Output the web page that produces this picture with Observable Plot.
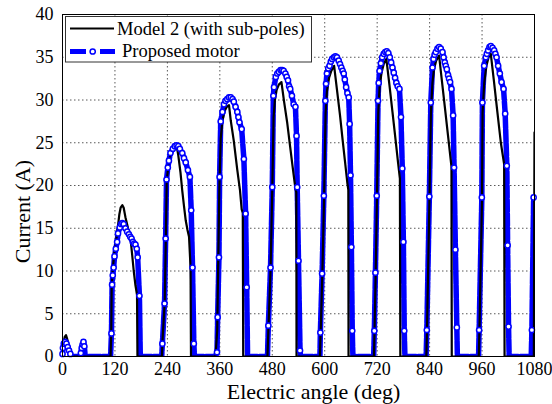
<!DOCTYPE html>
<html><head><meta charset="utf-8">
<script src="https://cdn.jsdelivr.net/npm/d3@7"></script>
<script src="https://cdn.jsdelivr.net/npm/@observablehq/plot@0.6"></script>
<style>
body{margin:0;background:#fff;}
#chart{width:552px;height:404px;}
</style></head><body><div id="chart"></div>
<script>
const seriesNames = ["Model 2 (with sub-poles)", "Proposed motor"];
const xTitle = "Electric angle (deg)";
const yTitle = "Current (A)";
const xTicks = [0,120,240,360,480,600,720,840,960,1080];
const yTicks = [0,5,10,15,20,25,30,35,40];

// Model 2 (with sub-poles) — black line
const modelAngle = [
  0,2,5,8,11,14,18,21,
  110,111.5,112.5,115,118,121,124,127,130,133,137,140,144,150,156,160,163,167,170.5,171.5,
  227.5,229,234,236.5,238.5,241.5,245,250,255,261,265,270,274,278,282,286,289.5,293,294,
  350,354,356,359,362,366,371,376,381,385,392,400,406,410,412.5,413.5,
  469,471,476,480,483,486,490,495,501,507,514,521,526,533,535,535.5,
  589,590.5,594.5,598.5,602,605,610,615,621.5,628,635,641,646,652,654,654.5,
  712.5,714,716.5,719.5,722.5,725.5,730,735,741,748,755,762,768,772,773,
  832.5,834,839.5,843,846.5,850,855,861.7,868,875,882,890,890.7,
  952.5,954,959.8,961.2,965,970,975,980,987,995,1003,1010.5,1011.5,
  1078.5,1080
];
const modelCurrent = [
  0.2,1.5,2.3,2.5,2.0,1.4,0.5,0,
  0,3,8,10.2,11.9,13.0,14.0,15.3,16.6,17.4,17.7,17.4,16.3,15.0,13.6,11.6,10.0,8.3,7.2,0,
  0,2,6.5,14,20.5,22.0,23.2,24.1,24.5,24.7,23.5,21.5,19.4,17.6,15.9,14.8,14.0,10.4,0,
  0,3,10,20,25.5,27.6,28.7,29.2,29.4,27.6,25.2,21.8,19.5,17.2,16.8,0,
  0,3,10,19.5,28,30,31.2,31.8,32.1,29.8,27.4,24.5,22.4,19.6,19.2,0,
  0,2.5,9.5,18.5,28.5,31,32.6,33.4,34.0,31.2,28.2,25.3,23.0,20.2,19.5,0,
  0,3,9.5,18.5,28.5,31.5,33.2,34.2,34.8,31.8,28.6,25.4,22.6,20.8,0,
  0,3,18,28.5,32,33.6,34.6,35.2,32.3,29.1,25.9,22.2,0,
  0,3,18,28.5,32,34,35,35.4,32.3,28.6,25.0,22.5,0,
  0,26.2
];

// Proposed motor — blue dashed line with circle markers
const motorAngle = [
  0,1,3,6,9,12,15,18,21,
  40,42,44,46,48,50,52,
  110,112,113.5,115,117,119,122,125,127,131,134,137,140,144,148,152,155,158,161,164,167,170,172,176,178,
  227,228.5,233.5,236,238,241,243.5,247,252.5,257,261,265,268.5,274,278,282,287,291.5,294.5,297.5,300.5,302,
  350,353.5,355,358,359.5,362,366,369.5,373,377,381,385,389,392,396,400,402.5,405,410,415,419,421.5,423.5,
  469,471,476,480,482.5,484,488,491.5,495,499,502.7,506,510,513,516,518.5,521,525,529,533,535.5,537,540,543.5,544.5,
  589,590,594,598,601.5,603,605,608,611,614,617,621,624.5,628,632,635,638,641,643.5,646,649,652,655,657,659,661,663,664.5,
  712,713.5,716,719,722,723.5,725.5,728.5,731.5,735,738.5,742,745.5,749,752,755,758,761,764,767,771,774.5,777.5,780,782,783.5,
  832,833.6,839.4,842.7,846.6,848.9,851.5,854.2,858,861.7,865.5,869.5,872,874.8,877,879.4,882.3,884.5,886.9,890.1,893.8,896,899,902.3,903.5,
  952,953.3,959.5,960.8,964.8,968.6,971,973.9,977,980,984,987.7,990.5,993.2,996.8,1000.7,1004.6,1009.2,1012.9,1016.7,1018.5,1020.6,1022,
  1072.5,1074,1078
];
const motorCurrent = [
  0.3,1.0,1.5,1.7,1.5,1.1,0.7,0.3,0,
  0,0.4,1.0,1.4,1.7,1.2,0,
  0,2.7,8.4,9.5,10.4,11.7,12.6,13.4,14.4,15.1,15.5,15.6,15.5,15.0,14.6,14.3,14.0,13.8,13.4,13.2,13.1,12.6,11.6,7.1,0,
  0,1.5,6.2,13.8,20.7,22.1,22.9,23.8,24.3,24.6,24.7,24.6,24.3,23.8,23.2,22.7,21.8,21.0,17.1,10.4,1.5,0,
  0,0.5,4.6,11.6,21.0,27.5,28.6,29.5,29.9,30.1,30.3,30.3,30.1,29.8,29.2,28.6,28.0,27.4,26.6,23.1,16.7,8.1,0,
  0,3.6,10.4,19.8,30.5,31.5,32.7,33.1,33.3,33.5,33.5,33.4,33.1,32.7,32.3,31.6,31.3,30.5,29.5,29.2,25.8,19.8,11.2,0.7,0,
  0,2.8,9.7,18.8,29.9,31.9,33.1,33.7,34.0,34.5,34.8,35.0,35.1,35.0,34.6,34.2,33.8,33.4,33.1,32.4,31.5,30.8,30.3,27.2,21.2,12.8,3.0,0,
  0,3.0,9.8,18.8,29.9,32.0,33.4,34.3,35.0,35.4,35.6,35.7,35.5,35.0,34.4,33.8,33.2,32.6,32.0,31.6,31.3,28.0,22.0,13.4,3.0,0,
  0,3.1,18.7,29.7,33.8,34.8,35.3,35.6,36.0,36.2,36.0,35.6,35.0,34.4,34.0,33.6,32.9,32.5,32.1,31.3,28.2,22.1,12.5,3.4,0,
  0,3.1,18.6,29.7,34.0,35.0,35.4,35.8,36.2,36.3,36.1,35.8,35.4,35.0,34.0,33.1,32.1,31.3,28.4,22.3,13.0,3.5,0,
  0,3.1,18.6
];

const model = modelAngle.map((a, i) => ({angle: a, current: modelCurrent[i]}));
const motor = motorAngle.map((a, i) => ({angle: a, current: motorCurrent[i]}));
const BLUE = "#0000ff";
const FONT = "'Liberation Serif', 'Times New Roman', serif";

const plot = Plot.plot({
  width: 552, height: 404,
  marginLeft: 62, marginRight: 18, marginTop: 14, marginBottom: 48,
  style: {fontFamily: FONT, fontSize: "18px", color: "#000", background: "#fff"},
  x: {domain: [0, 1080], label: null},
  y: {domain: [0, 40], label: null},
  marks: [
    Plot.gridX(xTicks, {stroke: "#222", strokeOpacity: 0.75, strokeDasharray: "1.5,2.5", strokeWidth: 1}),
    Plot.gridY(yTicks, {stroke: "#222", strokeOpacity: 0.75, strokeDasharray: "1.5,2.5", strokeWidth: 1}),
    Plot.axisX(xTicks, {tickSize: 0, tickPadding: 6, fontSize: 18, label: null, tickFormat: d => String(d)}),
    Plot.axisY(yTicks, {tickSize: 0, tickPadding: 9, fontSize: 18, label: null, tickFormat: d => String(d)}),
    Plot.line(motor, {x: "angle", y: "current", stroke: BLUE, strokeWidth: 5.5, strokeDasharray: "12,2", strokeLinejoin: "round", clip: true}),
    Plot.line(model, {x: "angle", y: "current", stroke: "#000", strokeWidth: 2.2, clip: true}),
    Plot.dot(motor.filter(d => d.current > 0), {x: "angle", y: "current", r: 2.6, fill: "#fff", stroke: BLUE, strokeWidth: 1.5}),
    Plot.frame({stroke: "#000", strokeWidth: 1}),
    Plot.text([xTitle], {frameAnchor: "bottom", textAnchor: "middle", lineAnchor: "middle", dy: 35.5, dx: 15, fontSize: 22, fill: "#000"}),
    Plot.text([yTitle], {frameAnchor: "left", textAnchor: "middle", lineAnchor: "middle", dx: -40, dy: 26, rotate: -90, fontSize: 22, fill: "#000"})
  ]
});
document.getElementById("chart").appendChild(plot);

// Legend inside the plot area (top-left)
const svg = d3.select(plot);
const lg = svg.append("g").attr("font-family", FONT).attr("font-size", 18.5).attr("text-anchor", "start");
lg.append("rect").attr("x", 65.5).attr("y", 16.5).attr("width", 246).attr("height", 45.5)
  .attr("fill", "#fff").attr("stroke", "#333").attr("stroke-width", 1);
lg.append("line").attr("x1", 70).attr("x2", 114).attr("y1", 28.5).attr("y2", 28.5)
  .attr("stroke", "#000").attr("stroke-width", 2.2);
lg.append("text").attr("x", 117).attr("y", 35).attr("fill", "#000").text(seriesNames[0]);
lg.append("line").attr("x1", 70).attr("x2", 115).attr("y1", 51.5).attr("y2", 51.5)
  .attr("stroke", BLUE).attr("stroke-width", 5).attr("stroke-dasharray", "16,14");
lg.append("circle").attr("cx", 92.7).attr("cy", 51.5).attr("r", 2.6)
  .attr("fill", "#fff").attr("stroke", BLUE).attr("stroke-width", 1.5);
lg.append("text").attr("x", 122).attr("y", 57).attr("fill", "#000").text(seriesNames[1]);
</script>
</body></html>
